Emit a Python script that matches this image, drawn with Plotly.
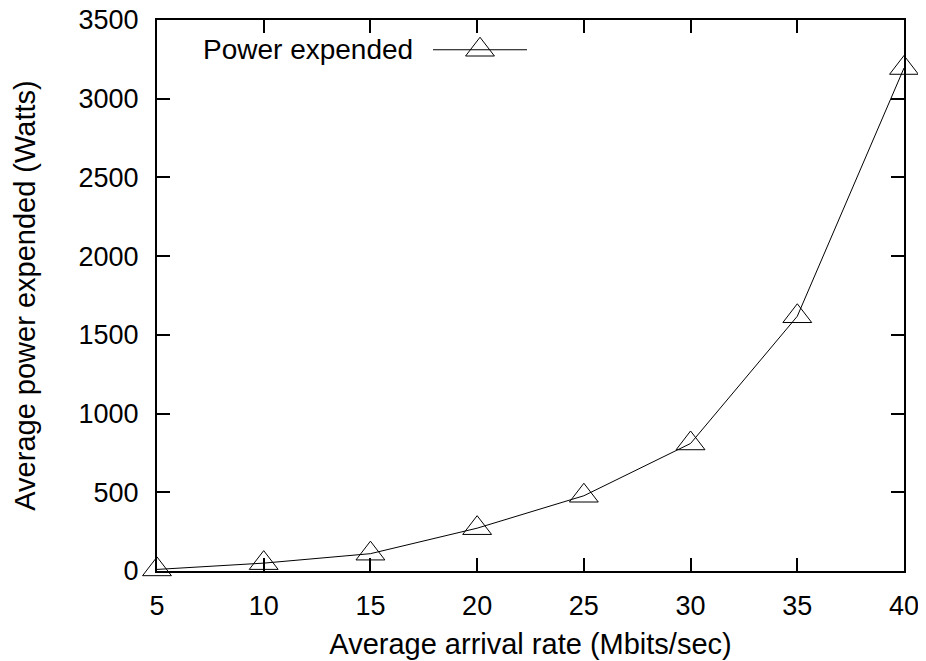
import plotly.graph_objects as go

rate = [5, 10, 15, 20, 25, 30, 35, 40]
power = [10, 50, 110, 272, 478, 810, 1618, 3195]
x_ticks = [5, 10, 15, 20, 25, 30, 35, 40]
y_ticks = [0, 500, 1000, 1500, 2000, 2500, 3000, 3500]
series_name = "Power expended"

FONT = "Liberation Sans, Arial, Helvetica, sans-serif"

fig = go.Figure()
fig.add_trace(go.Scatter(
    x=rate, y=power, mode="lines+markers", name=series_name,
    line=dict(color="black", width=1),
    marker=dict(symbol="triangle-up-open", size=25, color="black", line=dict(width=1, color="black")),
    cliponaxis=False, showlegend=False,
))

# legend sample (gnuplot style: text, then line with marker)
fig.add_trace(go.Scatter(
    x=[0.4324], y=[0.946], xaxis="x2", yaxis="y2", mode="markers",
    marker=dict(symbol="triangle-up-open", size=25, color="black", line=dict(width=1, color="black")),
    showlegend=False, hoverinfo="skip", cliponaxis=False,
))
fig.add_shape(type="line", xref="paper", yref="paper", x0=0.3695, x1=0.4953, y0=0.946, y1=0.946,
              line=dict(color="black", width=1))
fig.add_annotation(text=series_name, xref="paper", yref="paper", x=0.3454, y=0.946,
                   xanchor="right", yanchor="middle", showarrow=False,
                   font=dict(family=FONT, size=28, color="black"))

axis_common = dict(showline=True, linecolor="black", linewidth=2, mirror="ticks",
                   ticks="inside", ticklen=13, tickwidth=1.5, tickcolor="black",
                   showgrid=False, zeroline=False, automargin=False,
                   ticklabeloverflow="allow",
                   tickfont=dict(family=FONT, size=27, color="black"))

# page body has an 8px margin; size the figure so the plot lands where the reference has it
fig.update_layout(
    width=918, height=653,
    margin=dict(l=149, r=22, t=12, b=90, autoexpand=False),
    paper_bgcolor="white", plot_bgcolor="white",
    showlegend=False,
    xaxis=dict(range=[5, 40], tickvals=x_ticks, ticklabelstandoff=10,
               title=dict(text="Average arrival rate (Mbits/sec)", standoff=13,
                          font=dict(family=FONT, size=29, color="black")),
               **axis_common),
    yaxis=dict(range=[0, 3500], tickvals=y_ticks, ticklabelstandoff=11,
               title=dict(text="Average power expended (Watts)", standoff=34,
                          font=dict(family=FONT, size=29, color="black")),
               **axis_common),
    xaxis2=dict(range=[0, 1], overlaying="x", visible=False),
    yaxis2=dict(range=[0, 1], overlaying="y", visible=False),
)

fig.write_html("out.html")
